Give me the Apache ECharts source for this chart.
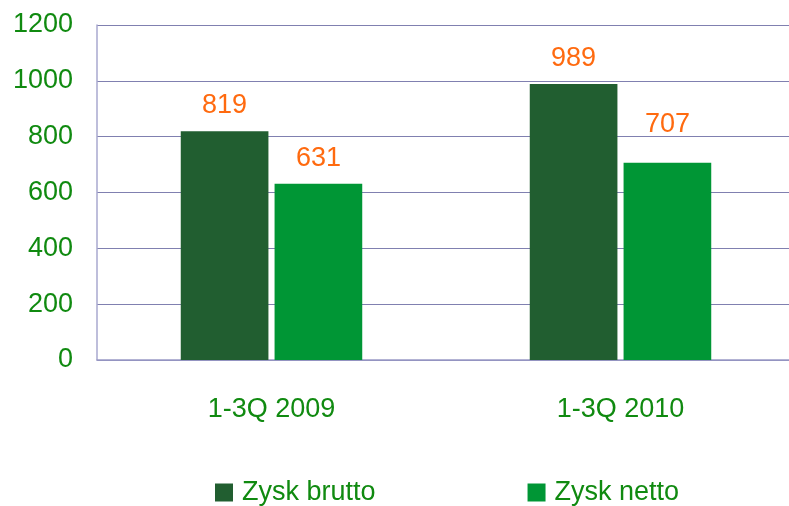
<!DOCTYPE html>
<html><head><meta charset="utf-8">
<script src="https://cdn.jsdelivr.net/npm/echarts@6/dist/echarts.min.js"></script>
<style>html,body{margin:0;padding:0;background:#fff}#c{width:789px;height:506px}</style>
</head><body><div id="c"></div>
<script>
const categories = ['1-3Q 2009', '1-3Q 2010'];
const seriesNames = ['Zysk brutto', 'Zysk netto'];
const brutto = [819, 989];
const netto = [631, 707];
const yTicks = [0, 200, 400, 600, 800, 1000, 1200];

const FONT = 'Liberation Sans, Arial, sans-serif';
const GREEN_TXT = '#108a10';
const LABEL = { show: true, position: 'top', distance: 12, fontFamily: FONT, fontSize: 27, color: '#ff6a0f' };
const chart = echarts.init(document.getElementById('c'));
chart.setOption({
  animation: false,
  grid: { left: 97, width: 698, top: 25, bottom: 146, containLabel: false, outerBoundsMode: 'none' },
  legend: {
    data: seriesNames,
    left: 210, top: 474,
    itemWidth: 18, itemHeight: 18, itemGap: 152,
    icon: 'rect',
    textStyle: { fontFamily: FONT, fontSize: 27, color: GREEN_TXT, padding: [0, 0, 0, 4] }
  },
  xAxis: {
    type: 'category', data: categories,
    axisLine: { lineStyle: { color: '#9a9ac6', width: 1.5 } },
    axisTick: { show: false },
    axisLabel: { fontFamily: FONT, fontSize: 27, color: GREEN_TXT, margin: 36 }
  },
  yAxis: {
    type: 'value', min: yTicks[0], max: yTicks[yTicks.length - 1], interval: 200,
    axisLine: { show: true, lineStyle: { color: '#a8a8cf', width: 1.5 } },
    axisTick: { show: false },
    splitLine: { lineStyle: { color: '#8080b0', width: 1.2 } },
    axisLabel: { fontFamily: FONT, fontSize: 27, color: GREEN_TXT, margin: 24, padding: [6, 0, 0, 0], formatter: v => String(v) }
  },
  series: [
    { name: seriesNames[0], type: 'bar', data: brutto, barGap: '7%', barCategoryGap: '48%',
      itemStyle: { color: '#215e30' }, label: LABEL },
    { name: seriesNames[1], type: 'bar',
      data: netto.map((v, i) => i === 1 ? { value: v, label: { offset: [0, -13] } } : v),
      itemStyle: { color: '#009635' }, label: LABEL }
  ]
});
</script></body></html>
